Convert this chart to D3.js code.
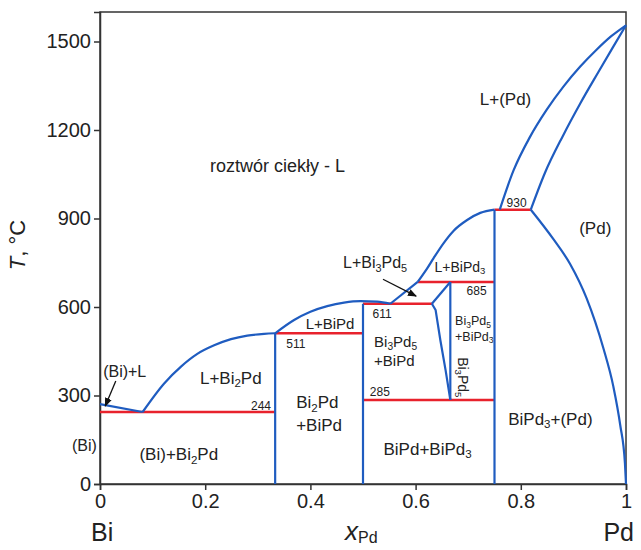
<!DOCTYPE html>
<html>
<head>
<meta charset="utf-8">
<script src="https://cdn.jsdelivr.net/npm/d3@7"></script>
<style>
  body { margin: 0; background: #fff; }
  svg { display: block; font-family: "Liberation Sans", Arial, sans-serif; }
</style>
</head>
<body>
<svg id="chart" width="641" height="550"></svg>
<script>
// ---------------- DATA ----------------
const xTicks = [0, 0.2, 0.4, 0.6, 0.8, 1];
const yTicks = [0, 300, 600, 900, 1200, 1500];

// liquidus / boundary curves: [x_Pd, T]
const liqBi     = [[0, 271], [0.081, 244]];
const liqBi2Pd  = [[0.081, 244], [0.122, 341], [0.154, 398], [0.185, 441], [0.217, 470], [0.249, 491], [0.280, 503], [0.312, 509], [0.333, 511]];
const liqBiPd   = [[0.333, 511], [0.369, 556], [0.400, 584], [0.432, 603], [0.464, 615], [0.495, 620], [0.527, 618], [0.552, 611]];
const liqBi3Pd5 = [[0.552, 611], [0.604, 685]];
const liqBiPd3  = [[0.604, 685], [0.622, 731], [0.634, 765], [0.653, 816], [0.672, 858], [0.698, 895], [0.723, 919], [0.75, 930]];
const liqPd     = [[0.760, 930], [0.786, 1062], [0.817, 1175], [0.849, 1268], [0.881, 1347], [0.913, 1415], [0.944, 1472], [0.972, 1518], [1, 1555]];
const solPd     = [[0.819, 930], [0.846, 1055], [0.880, 1180], [0.913, 1290], [0.947, 1395], [0.975, 1480], [1, 1555]];
const solvusPd  = [[0.819, 930], [0.862, 830], [0.894, 745], [0.925, 630], [0.957, 460], [0.976, 330], [0.989, 200], [0.998, 70], [1, 0]];
const bi3pd5Left = [[0.631, 611], [0.638, 590], [0.647, 488], [0.657, 386], [0.666, 285]];
const bi3pd5Top  = [[0.631, 611], [0.666, 685]];

// vertical phase lines: [x, Tlow, Thigh]
const verticals = [[0.333, 0, 511], [0.5, 0, 611], [0.666, 285, 685], [0.75, 0, 930]];

// invariant (red) lines: [T, x0, x1]
const invariants = [[244, 0, 0.333], [511, 0.333, 0.5], [611, 0.5, 0.631], [685, 0.604, 0.75], [285, 0.5, 0.75], [930, 0.75, 0.819]];

// ---------------- CHART ----------------
const svg = d3.select("#chart");
const x = d3.scaleLinear().domain([0, 1]).range([100, 626]);
const y = d3.scaleLinear().domain([0, 1600]).range([484, 12]);

const BLUE = "#1f5cc0", RED = "#e8222c", INK = "#222";

// frame
svg.append("rect")
  .attr("x", x(0)).attr("y", y(1600))
  .attr("width", x(1) - x(0)).attr("height", y(0) - y(1600))
  .attr("fill", "none").attr("stroke", "#333").attr("stroke-width", 1.5);

// axes
const gx = svg.append("g").attr("transform", `translate(0,${y(0)})`)
  .call(d3.axisBottom(x).tickValues(xTicks).tickSize(6).tickPadding(4)
    .tickFormat(d => d === 0 || d === 1 ? d3.format("d")(d) : d3.format(".1f")(d)));
const gy = svg.append("g").attr("transform", `translate(${x(0)},0)`)
  .call(d3.axisLeft(y).tickValues(yTicks).tickSize(6).tickPadding(3).tickFormat(d3.format("d")));
[gx, gy].forEach(g => {
  g.selectAll("path").attr("stroke", "#333").attr("stroke-width", 1.5);
  g.selectAll("line").attr("stroke", "#333").attr("stroke-width", 1.5);
  g.selectAll("text").attr("fill", INK).style("font-size", "20px")
    .style("font-family", "'Liberation Sans', Arial, sans-serif");
});

// red invariant lines
svg.append("g").selectAll("line").data(invariants).join("line")
  .attr("x1", d => x(d[1])).attr("x2", d => x(d[2]))
  .attr("y1", d => y(d[0])).attr("y2", d => y(d[0]))
  .attr("stroke", RED).attr("stroke-width", 2.5);

// blue verticals
svg.append("g").selectAll("line").data(verticals).join("line")
  .attr("x1", d => x(d[0])).attr("x2", d => x(d[0]))
  .attr("y1", d => y(d[1])).attr("y2", d => y(d[2]))
  .attr("stroke", BLUE).attr("stroke-width", 2.2);

// blue curves
const line = d3.line().x(d => x(d[0])).y(d => y(d[1])).curve(d3.curveMonotoneX);
const lineLin = d3.line().x(d => x(d[0])).y(d => y(d[1]));
[liqBi2Pd, liqBiPd, liqBiPd3, liqPd, solPd, solvusPd].forEach(c =>
  svg.append("path").attr("d", line(c)).attr("fill", "none").attr("stroke", BLUE).attr("stroke-width", 2.2));
[liqBi, liqBi3Pd5, bi3pd5Top, bi3pd5Left].forEach(c =>
  svg.append("path").attr("d", lineLin(c)).attr("fill", "none").attr("stroke", BLUE).attr("stroke-width", 2.2).attr("stroke-linejoin", "round"));

// ---------------- LABELS ----------------
function label(str, px, py, size, opts = {}) {
  const t = svg.append("text")
    .attr("x", px).attr("y", py)
    .attr("fill", INK)
    .style("font-size", size + "px")
    .attr("text-anchor", opts.anchor || "start");
  if (opts.rotate) t.attr("transform", `rotate(${opts.rotate},${px},${py})`);
  const shift = size * 0.2;
  let pending = 0;
  str.split(/(_\d)/).forEach(p => {
    if (!p) return;
    if (p[0] === "_") {
      t.append("tspan").text(p.slice(1)).style("font-size", (size * 0.68) + "px").attr("dy", shift + pending);
      pending = -shift;
    } else {
      const s = t.append("tspan").text(p);
      if (pending) s.attr("dy", pending);
      pending = 0;
    }
  });
  return t;
}

label("roztwór ciekły - L", x(0.209), y(1059), 18);
label("L+(Pd)", x(0.722), y(1285), 17);
label("(Pd)", x(0.911), y(847), 17);
label("930", x(0.773), y(940), 12);
label("L+BiPd_3", x(0.636), y(720), 14);
label("685", x(0.697), y(641), 12);
label("L+Bi_3Pd_5", x(0.462), y(731), 16);
label("611", x(0.518), y(563), 12);
label("Bi_3Pd_5", x(0.521), y(465), 15);
label("+BiPd", x(0.521), y(400), 15);
label("Bi_3Pd_5", x(0.675), y(538), 12.5);
label("+BiPd_3", x(0.675), y(485), 12.5);
label("Bi_3Pd_5", x(0.681), y(430), 14, { rotate: 90 });
label("285", x(0.513), y(298), 12);
label("BiPd+BiPd_3", x(0.539), y(98), 17);
label("BiPd_3+(Pd)", x(0.776), y(200), 17);
label("511", x(0.354), y(460), 12);
label("L+BiPd", x(0.391), y(524), 15);
label("Bi_2Pd", x(0.373), y(257), 17);
label("+BiPd", x(0.373), y(180), 17);
label("244", x(0.287), y(251), 12);
label("L+Bi_2Pd", x(0.190), y(339), 17);
label("(Bi)+Bi_2Pd", x(0.075), y(81), 17);
label("(Bi)+L", x(0.006), y(362), 16);
label("(Bi)", x(-0.006), y(112), 16, { anchor: "end" });

// arrows
const defs = svg.append("defs");
defs.append("marker").attr("id", "ah").attr("viewBox", "0 0 10 10")
  .attr("refX", 9).attr("refY", 5).attr("markerWidth", 9).attr("markerHeight", 9)
  .attr("markerUnits", "userSpaceOnUse").attr("orient", "auto")
  .append("path").attr("d", "M0,1 L10,5 L0,9 Z").attr("fill", "#111");
const arrows = [[[0.030, 349], [0.010, 264]], [[0.538, 694], [0.601, 637]]];
svg.append("g").selectAll("line").data(arrows).join("line")
  .attr("x1", d => x(d[0][0])).attr("y1", d => y(d[0][1]))
  .attr("x2", d => x(d[1][0])).attr("y2", d => y(d[1][1]))
  .attr("stroke", "#111").attr("stroke-width", 1.3).attr("marker-end", "url(#ah)");

// axis titles
const yt = svg.append("text").attr("transform", "translate(25,245) rotate(-90)")
  .attr("text-anchor", "middle").attr("fill", INK).style("font-size", "22px");
yt.append("tspan").text("T").style("font-style", "italic");
yt.append("tspan").text(", °C");

svg.append("text").attr("x", 91).attr("y", 541).attr("fill", INK).style("font-size", "25px").text("Bi");
svg.append("text").attr("x", 634).attr("y", 541).attr("text-anchor", "end").attr("fill", INK).style("font-size", "25px").text("Pd");
const xt = svg.append("text").attr("x", 345).attr("y", 540).attr("fill", INK).style("font-size", "26px");
xt.append("tspan").text("x").style("font-style", "italic");
xt.append("tspan").text("Pd").style("font-size", "16px").attr("dy", 3);
</script>
</body>
</html>
